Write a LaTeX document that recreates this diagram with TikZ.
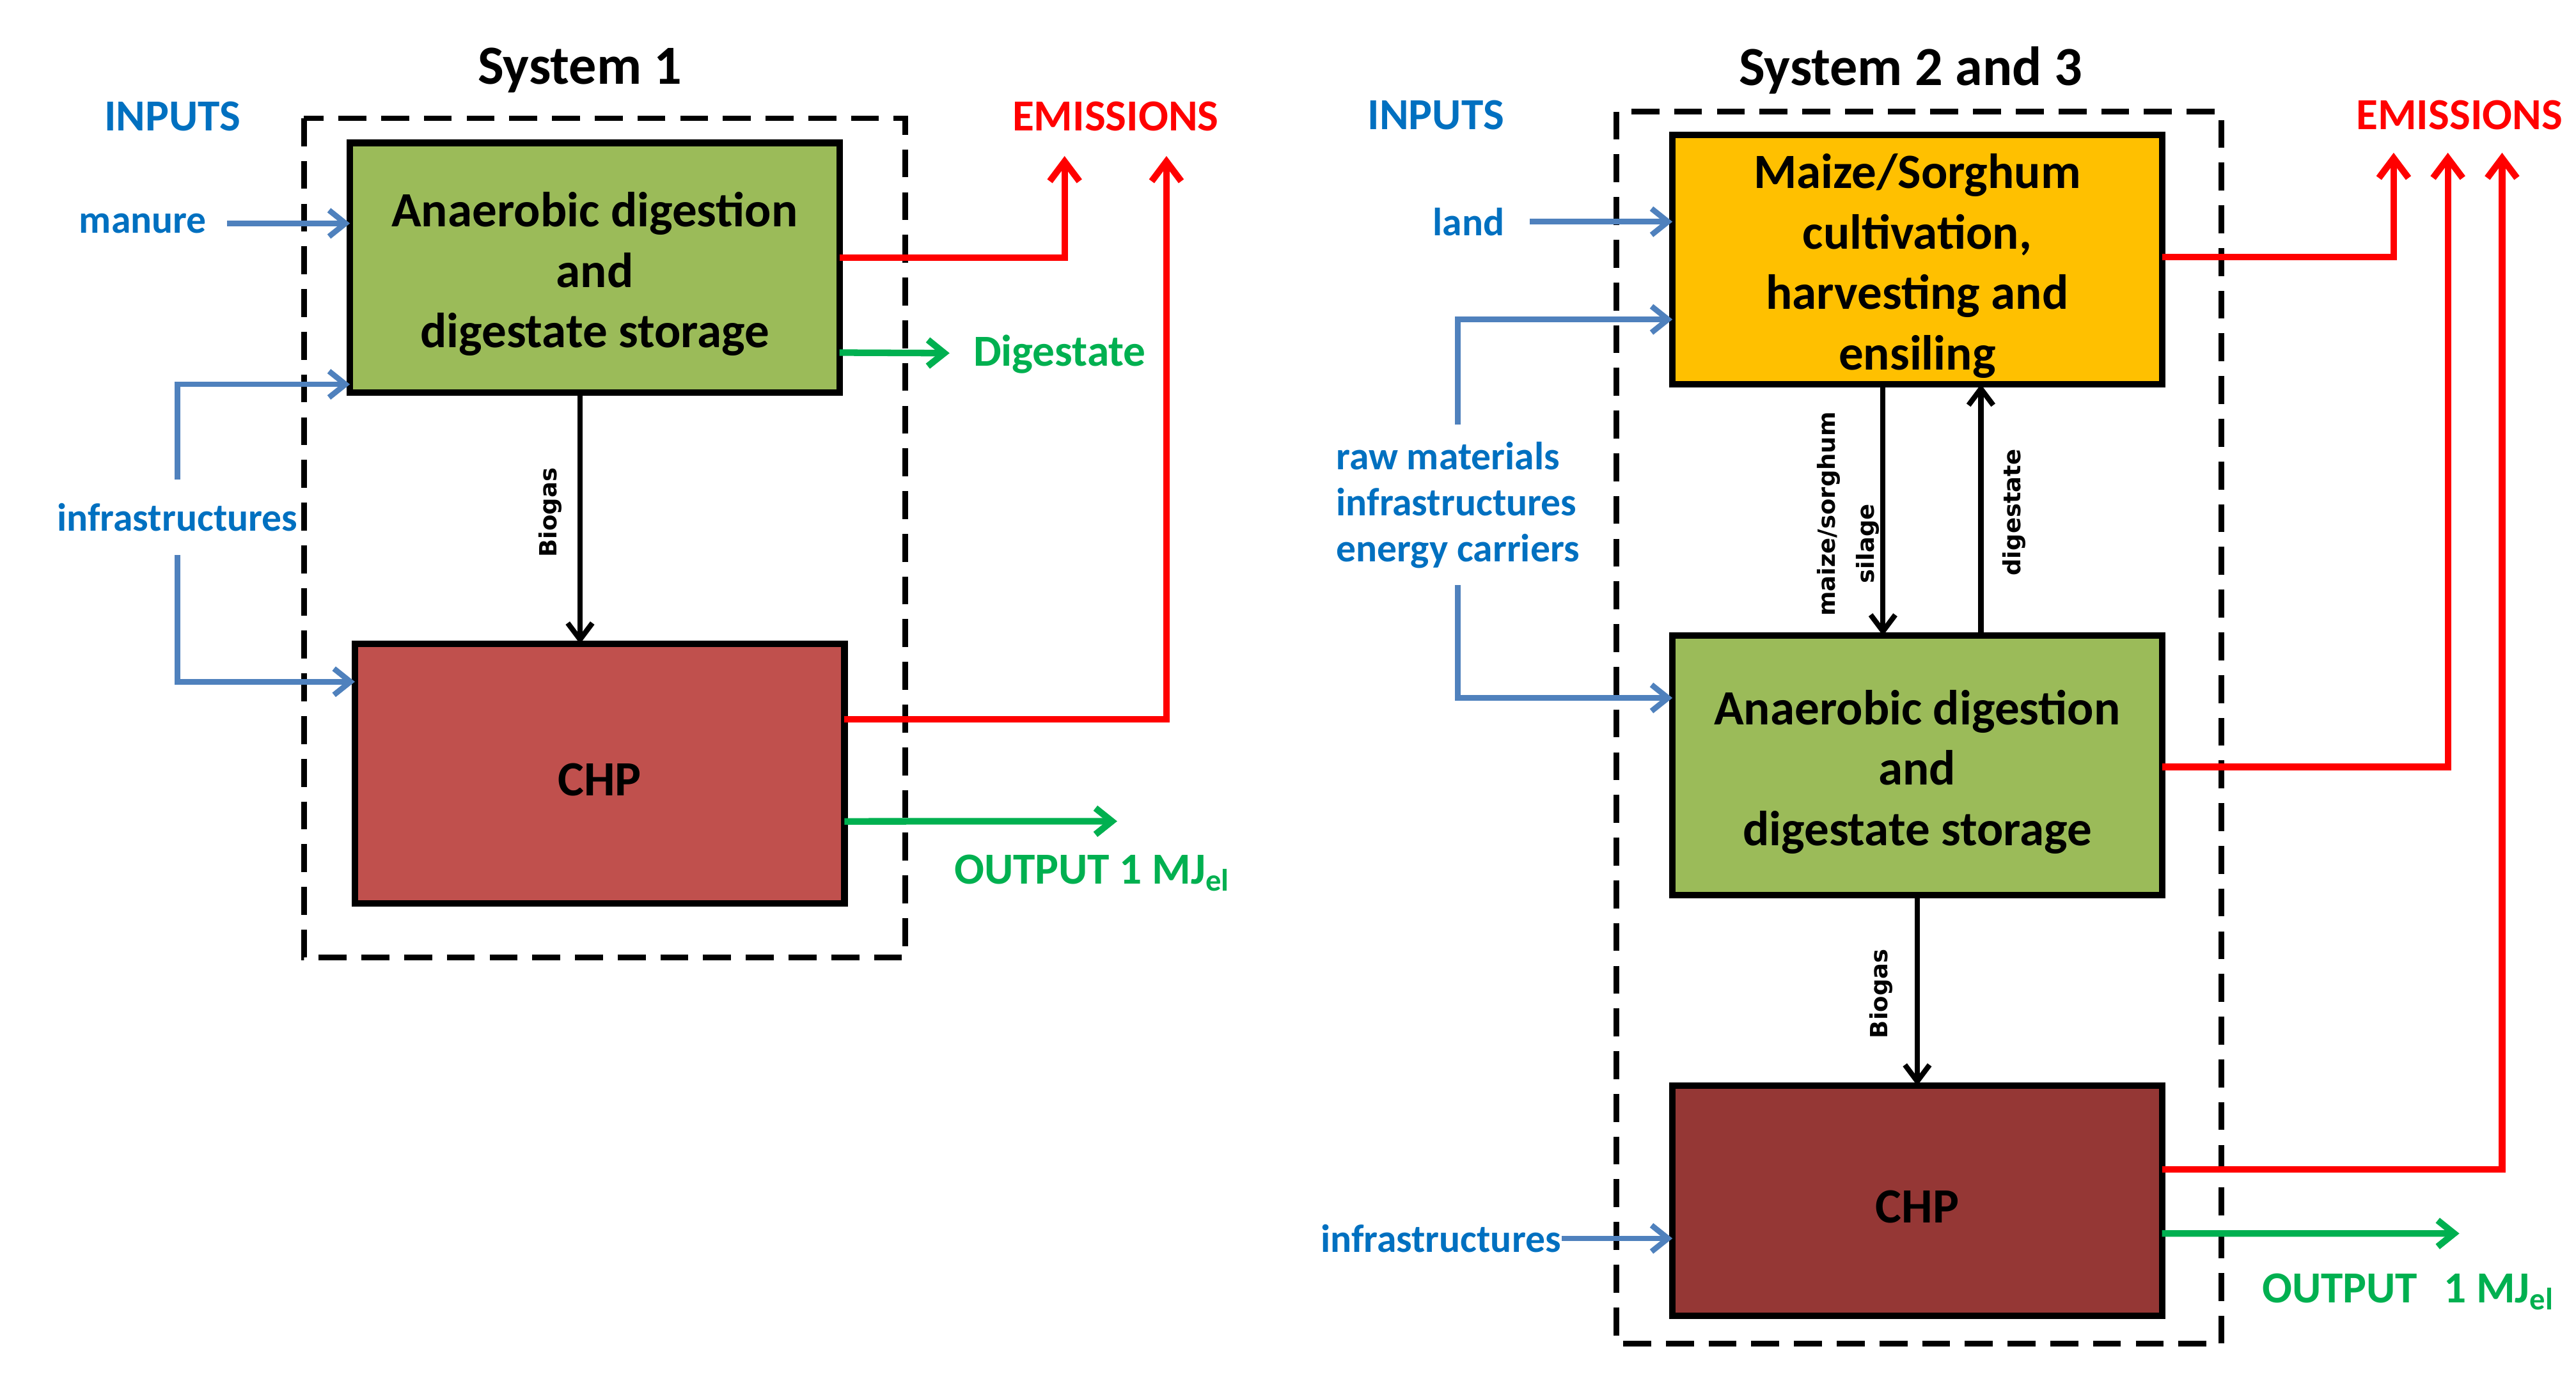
\documentclass[tikz,border=0pt]{standalone}
\usepackage{fontspec}
\setmainfont{Carlito}
\newfontfamily\lblfont{DejaVu Sans}
\usetikzlibrary{arrows.meta,calc}
\definecolor{bluel}{HTML}{4F81BD}
\definecolor{bluet}{HTML}{0070C0}
\definecolor{redl}{HTML}{FF0000}
\definecolor{greenl}{HTML}{00B050}
\definecolor{greenbox}{HTML}{9BBB59}
\definecolor{yellowbox}{HTML}{FFC000}
\definecolor{chpa}{HTML}{C0504D}
\definecolor{chpb}{HTML}{953735}
\newcommand{\tstrut}[1]{\rule{0pt}{#1}}
\begin{document}
\begin{tikzpicture}[x=0.5pt,y=-0.5pt,
  box/.style={draw=black,line width=2pt,minimum width=149pt,inner sep=0pt,outer sep=0pt,
    align=center,font=\fontsize{15}{18.4}\selectfont\bfseries},
  sysbox/.style={draw=black,line width=1.7pt,dash pattern=on 8.5pt off 4.5pt},
  inarrow/.style={draw=bluel,line width=1.7pt,-{Straight Barb[length=5pt,width=8pt]}},
  emarrow/.style={draw=redl,line width=2pt,-{Straight Barb[length=6pt,width=9pt]}},
  outarrow/.style={draw=greenl,line width=2pt,-{Straight Barb[length=5pt,width=8pt]}},
  flow/.style={draw=black,line width=1.6pt,-{Straight Barb[length=5pt,width=7.5pt]}},
  titletxt/.style={font=\fontsize{16.8}{20}\selectfont\bfseries},
  hdrb/.style={text=bluet,font=\fontsize{13.5}{16}\selectfont\bfseries},
  hdrr/.style={text=redl,font=\fontsize{13.5}{16}\selectfont\bfseries},
  hdrg/.style={text=greenl,font=\fontsize{13.5}{16}\selectfont\bfseries},
  inp/.style={text=bluet,font=\fontsize{12}{14}\selectfont\bfseries},
  lbl/.style={rotate=90,inner sep=0pt,font=\lblfont\bfseries\fontsize{7.2}{8.6}\selectfont}
]
\useasboundingbox (0,0) rectangle (1568,836.2);

% ---------- System 1 ----------
\draw[sysbox] (185,72) rectangle (551,583);
\node[box,fill=greenbox,minimum height=76pt] (ad1) at (362,163) {\tstrut{14.5pt}Anaerobic digestion\\and\\digestate storage};
\node[box,fill=chpa,minimum height=79pt] (chp1) at (365,471) {\tstrut{13.5pt}CHP};
\node[titletxt] (t1) at (353,43) {System 1};
\node[hdrb] (in1) at (105,71) {INPUTS};
\node[hdrr] (em1) at (679,71) {EMISSIONS};
\node[inp,inner xsep=6pt] (man) at (87,136) {manure};
\node[inp,inner ysep=7pt] (inf1) at (108,315) {infrastructures};
\node[hdrg] (dig) at (645,215.5) {Digestate};
\node[hdrg] (out1) at (665,531.5) {OUTPUT 1 MJ\textsubscript{el}};
\node[lbl] (bg1) at (335,312) {Biogas};
\coordinate (e1a) at (648,95);
\coordinate (e1b) at (710,95);
\coordinate (d1) at (578,215);
\coordinate (o1) at (680,500);

\draw[inarrow] (man.east) -- (man.east -| ad1.west);
\draw[inarrow] (inf1.north) |- ($(ad1.north west)!0.967!(ad1.south west)$);
\draw[inarrow] (inf1.south) |- ($(chp1.north west)!0.146!(chp1.south west)$);
\draw[emarrow] ($(ad1.north east)!0.46!(ad1.south east)$) -| (e1a);
\draw[emarrow] ($(chp1.north east)!0.29!(chp1.south east)$) -| (e1b);
\draw[outarrow] ($(ad1.north east)!0.84!(ad1.south east)$) -- (d1);
\draw[outarrow] ($(chp1.north east)!0.684!(chp1.south east)$) -- (o1);
\draw[flow] ($(ad1.south west)!0.47!(ad1.south east)$) coordinate (b1s) -- (b1s |- chp1.north);

% ---------- System 2 and 3 ----------
\draw[sysbox] (984,68) rectangle (1352,818);
\node[box,fill=yellowbox,minimum height=76pt] (cult) at (1167,158) {\tstrut{14.5pt}Maize/Sorghum\\cultivation,\\harvesting and\\ensiling};
\node[box,fill=greenbox,minimum height=79pt] (ad2) at (1167,466) {\tstrut{14.5pt}Anaerobic digestion\\and\\digestate storage};
\node[box,fill=chpb,minimum height=70pt] (chp2) at (1167,731) {\tstrut{13.5pt}CHP};
\node[titletxt] (t2) at (1163,43) {System 2 and 3};
\node[hdrb] (in2) at (874,70) {INPUTS};
\node[hdrr] (em2) at (1497,70) {EMISSIONS};
\node[inp,inner xsep=7.5pt] (land) at (894,135) {land};
\node[inp,align=left,anchor=west,inner xsep=0pt,inner ysep=5pt,font=\fontsize{12}{14}\selectfont\bfseries] (raw) at (813,307.5) {raw materials\\infrastructures\\energy carriers};
\node[inp,inner xsep=0pt] (inf2) at (877,754) {infrastructures};
\node[hdrg] (out2) at (1466,786.5) {OUTPUT\hspace{8pt}1 MJ\textsubscript{el}};
\node[lbl] (ms) at (1113,313) {maize/sorghum};
\node[lbl] (sil) at (1137,331) {silage};
\node[lbl] (dgl) at (1226,312) {digestate};
\node[lbl] (bg2) at (1145,605) {Biogas};
\coordinate (e2a) at (1457,93);
\coordinate (e2b) at (1490,93);
\coordinate (e2c) at (1523,93);
\coordinate (o2) at (1497,751);

\draw[inarrow] (land.east) -- (land.east -| cult.west);
\draw[inarrow] (raw.north) |- ($(cult.north west)!0.74!(cult.south west)$);
\draw[inarrow] (raw.south) |- ($(ad2.north west)!0.24!(ad2.south west)$);
\draw[inarrow] (inf2.east) -- (inf2.east -| chp2.west);
\draw[emarrow] ($(cult.north east)!0.49!(cult.south east)$) -| (e2a);
\draw[emarrow] ($(ad2.north east)!0.506!(ad2.south east)$) -| (e2b);
\draw[emarrow] ($(chp2.north east)!0.364!(chp2.south east)$) -| (e2c);
\draw[outarrow] ($(chp2.north east)!0.643!(chp2.south east)$) -- (o2);
\draw[flow] ($(cult.south west)!0.43!(cult.south east)$) coordinate (m1) -- (m1 |- ad2.north);
\draw[flow] ($(ad2.north west)!0.63!(ad2.north east)$) coordinate (m2) -- (m2 |- cult.south);
\draw[flow] (ad2.south) -- (chp2.north);
\end{tikzpicture}
\end{document}
